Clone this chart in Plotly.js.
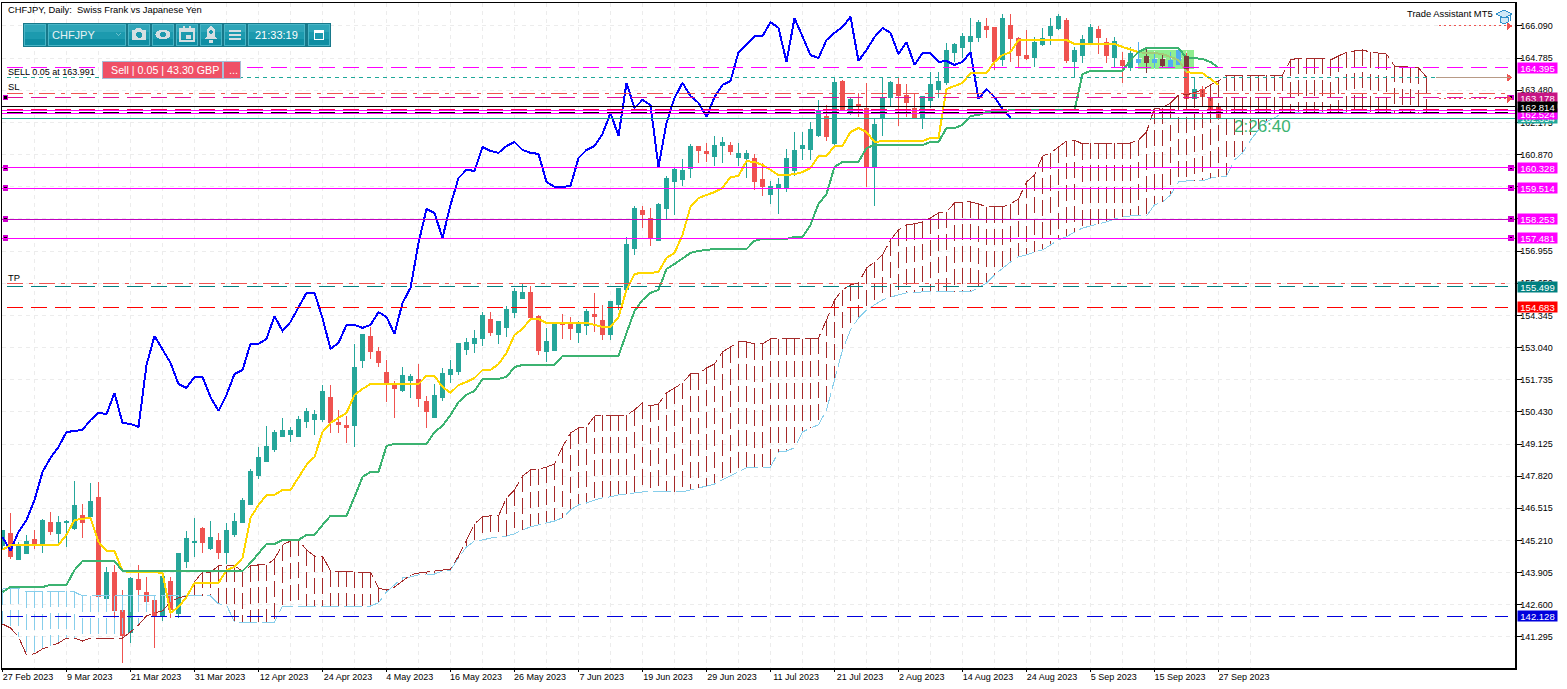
<!DOCTYPE html>
<html><head><meta charset="utf-8">
<script src="https://cdn.plot.ly/plotly-3.0.1.min.js"></script>
<style>html,body{margin:0;padding:0;background:#fff}#c{width:1567px;height:689px}
.scatterlayer path,.boxlayer path,.shapelayer path{shape-rendering:crispEdges}</style>
</head><body><div id="c"></div>
<script>
const open_=[144.99,145.48,144.42,144.70,145.23,144.99,145.96,145.48,145.92,145.68,146.21,146.17,146.94,142.84,143.93,142.35,141.46,143.61,143.08,142.76,142.11,143.53,142.23,144.34,145.11,145.68,144.87,145.19,144.74,145.44,145.96,146.69,147.83,148.40,148.92,149.41,149.53,149.45,150.02,150.14,150.14,151.03,149.98,149.86,149.86,152.50,153.47,152.86,152.01,151.48,151.28,151.72,151.76,150.87,150.22,151.03,151.93,152.05,152.98,153.19,153.39,154.16,153.59,153.84,154.48,155.05,155.26,154.28,152.86,152.94,154.00,153.96,153.67,153.92,154.40,154.12,153.55,154.77,155.38,157.08,158.62,158.26,157.37,158.70,159.76,159.88,160.29,161.18,160.98,160.81,161.26,161.22,160.77,160.73,160.73,159.88,159.27,159.52,159.52,160.21,161.10,161.06,161.63,162.40,161.34,163.82,162.56,162.92,162.76,160.37,162.32,163.17,163.70,163.25,162.76,162.36,163.05,163.50,163.78,165.03,165.20,165.48,165.64,166.05,166.01,164.71,166.09,165.60,164.91,164.83,165.32,165.72,165.97,166.33,164.63,164.91,165.44,165.93,165.44,164.83,164.67,164.39,164.59,164.87,164.59,164.75,164.39,164.51,164.87,163.13,163.53,163.13,162.80];
const high=[145.60,146.33,145.15,145.44,145.64,146.09,146.37,146.21,146.04,147.63,146.69,147.55,147.59,144.14,144.22,143.20,143.73,144.22,143.73,142.96,143.73,143.73,144.70,145.60,146.13,145.76,146.00,145.52,145.92,146.33,146.94,148.11,149.01,149.86,149.70,150.18,149.82,150.26,150.59,150.51,151.52,151.52,150.51,150.26,153.19,153.59,153.87,153.06,152.54,151.68,152.25,151.97,152.37,151.08,151.56,152.21,152.54,153.23,153.43,153.75,154.48,154.48,154.12,154.73,155.46,155.66,155.54,154.36,153.84,154.00,154.40,154.28,154.12,154.60,155.26,154.77,154.93,155.46,157.53,158.79,158.79,158.70,158.91,160.00,160.33,160.69,161.30,161.22,161.34,161.63,161.59,161.38,161.34,161.06,160.90,160.53,159.80,159.92,161.10,161.79,161.79,162.20,163.09,162.88,163.98,163.90,163.17,163.37,163.78,162.32,163.98,163.86,163.98,163.74,163.37,163.25,164.22,164.22,165.40,165.40,165.81,166.41,166.33,166.41,166.05,166.58,166.58,165.64,165.93,165.64,166.01,166.41,166.58,166.41,165.24,165.72,166.17,166.09,165.60,165.64,165.03,165.24,165.44,165.20,164.99,164.95,165.03,165.12,164.99,164.02,163.65,163.29,162.80];
const low=[144.83,144.46,144.42,144.70,144.87,144.70,145.44,145.11,144.95,145.64,145.31,146.17,142.92,142.84,142.07,140.24,141.05,142.72,142.39,140.85,141.95,142.07,142.07,144.10,144.54,144.70,144.83,144.46,144.26,145.35,145.92,146.65,147.71,148.40,148.80,149.41,149.21,149.41,149.78,149.49,150.02,149.57,149.57,149.17,149.01,152.21,152.58,152.25,150.83,150.18,151.24,150.99,150.63,149.78,150.18,150.87,151.60,151.93,152.74,152.82,153.11,153.51,153.19,153.47,154.24,155.01,154.16,152.74,152.45,152.94,153.39,153.35,153.23,153.55,153.67,153.35,153.35,154.57,155.38,156.80,157.89,157.16,157.37,158.26,158.42,159.60,159.92,160.53,160.57,160.41,160.53,160.86,160.41,159.92,159.43,159.19,158.87,158.46,159.35,160.00,160.65,160.65,161.59,161.42,161.22,162.68,162.48,162.40,159.56,158.79,161.63,162.80,162.03,162.40,162.36,161.91,162.76,163.17,163.70,164.63,164.79,164.79,165.44,165.60,164.30,164.47,164.63,164.43,164.71,164.43,165.28,165.32,165.93,164.59,164.02,164.59,165.32,164.95,164.59,164.39,163.78,164.26,164.51,164.18,164.39,164.39,164.39,164.51,163.09,163.13,163.21,162.48,162.28];
const close_=[145.60,144.54,144.99,145.15,145.03,146.04,145.56,145.92,146.00,146.61,145.96,146.81,142.92,143.93,142.35,141.34,143.65,143.24,142.72,142.11,143.73,142.39,144.70,145.31,145.15,145.11,145.35,144.74,145.60,146.00,146.85,148.03,148.56,149.01,149.61,149.66,149.66,150.10,150.43,150.34,151.24,149.98,149.90,149.78,152.25,153.55,152.90,152.42,151.56,151.36,151.89,151.85,150.99,150.43,151.08,151.97,152.13,153.19,153.23,153.39,154.36,153.67,154.08,154.60,155.30,155.26,154.24,152.94,153.27,153.96,153.96,153.80,153.96,154.52,154.28,153.55,154.89,155.42,157.24,158.70,158.42,157.49,158.83,159.92,160.25,160.21,161.18,161.02,160.90,161.22,161.38,160.98,160.90,160.90,159.76,159.56,159.56,159.64,160.73,161.02,161.22,161.87,162.60,161.59,163.78,162.68,163.09,162.88,160.33,162.11,163.13,163.78,163.25,162.97,162.36,163.21,163.70,163.82,165.08,165.32,165.68,165.68,166.25,165.93,164.63,166.41,165.60,164.91,164.79,165.44,165.60,166.05,166.46,164.67,165.08,165.56,166.01,165.64,164.91,165.48,164.47,164.99,164.71,164.59,164.71,164.47,164.67,165.08,163.13,163.53,163.21,162.72,162.32];
const chikou=[145.35,144.79,145.56,146.04,146.85,147.99,148.56,149.01,149.61,149.66,149.70,150.10,150.39,150.34,151.20,149.98,149.94,149.82,152.33,153.51,152.94,152.42,151.56,151.40,151.85,151.85,151.03,150.47,151.12,151.97,152.13,153.19,153.19,153.39,154.32,153.71,154.08,154.65,155.26,155.26,154.24,152.98,153.23,153.96,153.96,153.84,153.96,154.48,154.28,153.59,154.85,155.46,157.28,158.66,158.50,157.49,158.83,159.92,160.25,160.21,161.18,161.02,160.94,161.22,161.38,161.06,160.94,160.90,159.76,159.56,159.56,159.60,160.73,161.06,161.22,161.71,162.56,161.63,163.78,162.76,163.09,162.88,160.37,162.15,163.17,163.78,163.25,162.97,162.40,163.21,163.70,163.86,165.03,165.32,165.68,165.68,166.25,166.01,164.63,166.41,165.64,164.91,164.79,165.52,165.81,166.05,166.46,164.67,165.12,165.64,166.01,165.81,164.95,165.44,164.51,164.99,164.99,164.63,164.67,164.51,164.63,165.03,163.13,163.53,163.21,162.72,162.36];
const tenkan=[144.83,145.03,145.03,145.03,145.03,145.03,145.03,145.03,145.44,146.04,146.09,146.13,145.15,144.79,144.79,143.97,143.93,143.93,143.93,143.93,143.89,142.27,142.51,142.92,143.49,143.49,143.49,143.49,144.01,144.14,144.50,146.13,146.65,147.06,147.06,147.26,147.26,147.79,148.28,148.60,149.61,149.98,150.18,150.39,151.12,151.36,151.56,151.56,151.56,151.56,151.56,151.56,151.56,151.89,151.89,151.44,151.20,151.52,151.64,151.80,152.13,152.13,152.37,152.82,153.55,153.80,154.20,154.20,154.04,154.04,154.04,154.04,154.04,154.04,153.96,153.88,153.88,154.28,155.38,156.03,156.07,156.07,156.11,156.68,156.88,157.61,158.75,159.11,159.23,159.35,159.52,159.96,160.00,160.61,160.57,160.45,160.25,160.04,160.04,160.08,160.16,160.33,160.81,160.81,161.22,161.22,161.79,161.95,161.79,161.38,161.42,161.42,161.42,161.42,161.42,161.42,161.55,161.55,163.53,163.66,163.78,164.18,164.18,164.18,164.63,164.91,165.03,165.52,165.52,165.52,165.52,165.52,165.52,165.52,165.36,165.36,165.36,165.36,165.36,165.36,165.24,165.12,165.03,164.99,164.99,164.95,164.83,164.71,164.22,164.18,164.18,163.94,163.70];
const kijun=[143.12,143.32,143.32,143.32,143.32,143.32,143.41,143.41,143.41,144.01,144.38,144.38,144.38,144.38,144.38,143.97,143.97,143.97,143.97,143.97,143.97,143.97,143.97,143.97,143.97,143.97,143.97,143.97,143.97,143.97,143.97,144.30,144.70,145.07,145.07,145.23,145.23,145.23,145.44,145.44,145.84,146.21,146.21,146.21,146.98,147.79,147.99,147.99,149.05,149.13,149.13,149.13,149.13,149.13,149.61,149.86,150.30,150.83,151.12,151.28,151.77,151.77,151.77,151.85,152.25,152.33,152.33,152.33,152.33,152.33,152.70,152.70,152.70,152.70,152.70,152.70,152.70,152.70,153.63,154.52,154.97,155.26,155.38,156.23,156.43,156.64,156.88,156.96,157.00,157.04,157.04,157.04,157.04,157.04,157.37,157.45,157.45,157.45,157.45,157.53,157.53,158.02,158.87,159.27,160.37,160.57,160.57,160.57,161.14,161.26,161.26,161.26,161.26,161.26,161.26,161.26,161.38,161.38,161.95,161.95,162.07,162.44,162.48,162.60,162.60,162.60,162.68,162.68,162.68,162.68,162.68,162.68,162.68,162.68,162.68,164.14,164.27,164.27,164.27,164.27,164.27,164.71,165.03,165.20,165.20,165.20,165.20,165.20,164.79,164.79,164.75,164.63,164.39];
const senkouA=[141.82,141.66,141.30,140.57,140.61,140.81,140.93,141.05,141.25,141.25,141.13,141.25,141.25,141.25,141.25,141.25,141.50,141.78,142.15,142.27,142.35,142.72,142.88,142.96,143.53,143.93,143.93,144.18,144.18,144.18,143.97,144.18,144.22,144.22,144.46,145.03,145.19,145.23,144.83,144.58,144.58,143.97,143.97,143.97,143.93,143.93,143.93,143.28,143.20,143.32,143.57,143.81,143.89,143.93,143.97,144.01,144.05,144.58,145.23,145.88,146.17,146.21,146.21,146.94,147.26,147.83,148.07,148.11,148.19,148.32,149.01,149.57,149.78,149.82,150.26,150.30,150.30,150.30,150.30,150.51,150.79,150.67,150.75,151.20,151.40,151.60,151.97,151.97,152.21,152.37,152.86,153.06,153.27,153.27,153.19,153.19,153.39,153.39,153.39,153.39,153.39,153.39,153.43,154.16,154.97,155.38,155.58,155.66,156.27,156.51,156.80,157.41,157.81,158.02,158.06,158.14,158.30,158.50,158.54,158.91,158.95,158.95,158.87,158.75,158.75,158.75,158.87,159.07,159.76,160.04,160.81,160.94,161.18,161.42,161.46,161.30,161.34,161.34,161.34,161.34,161.34,161.34,161.46,161.79,162.76,162.76,162.97,163.29,163.29,163.41,163.50,163.70,163.86,164.10,164.10,164.10,164.10,164.10,164.10,164.10,164.10,164.71,164.79,164.79,164.79,164.79,164.71,164.87,165.03,165.08,165.12,165.03,164.99,164.95,164.47,164.43,164.43,164.39,164.02];
const senkouB=[143.24,143.28,143.28,143.12,143.12,143.12,143.16,143.16,143.16,143.12,142.96,142.96,142.96,142.96,142.96,142.96,142.96,142.96,142.96,142.96,142.96,142.96,142.96,142.96,142.96,142.96,142.96,142.64,142.59,141.90,141.90,141.90,141.90,141.90,141.90,142.55,142.55,142.55,142.55,142.55,142.55,142.55,142.55,142.55,142.55,142.55,142.55,142.68,143.12,143.41,143.69,143.73,143.81,143.85,143.85,143.97,144.01,144.50,144.95,145.19,145.23,145.31,145.35,145.39,145.48,145.64,145.76,145.84,145.92,146.00,146.13,146.45,146.65,146.73,146.85,146.94,146.98,147.06,147.10,147.14,147.18,147.18,147.18,147.18,147.18,147.18,147.26,147.34,147.42,147.50,147.67,147.83,147.99,148.16,148.19,148.19,148.19,148.80,148.84,148.97,149.61,149.78,149.90,150.51,151.72,152.94,153.75,154.24,154.57,154.77,154.97,155.09,155.17,155.26,155.26,155.30,155.30,155.30,155.30,155.30,155.30,155.30,155.46,155.66,155.99,156.27,156.51,156.72,156.80,156.92,157.00,157.20,157.41,157.53,157.73,157.89,157.97,158.06,158.14,158.26,158.34,158.38,158.38,158.38,158.83,158.95,159.23,159.76,159.80,159.80,159.80,159.92,159.96,160.00,160.65,160.94,161.46,161.87,162.20,162.36,162.56,162.56,162.56,162.56,162.56,162.56,162.56,162.56,162.56,162.56,162.56,162.56,162.56,162.56,162.56,162.56,162.56,162.56,162.56];
const yTicks=[166.09,164.785,163.48,162.175,160.87,159.565,158.26,156.955,155.65,154.345,153.04,151.735,150.43,149.125,147.82,146.515,145.21,143.905,142.6,141.295];
const dateLabels=["27 Feb 2023","9 Mar 2023","21 Mar 2023","31 Mar 2023","12 Apr 2023","24 Apr 2023","4 May 2023","16 May 2023","26 May 2023","7 Jun 2023","19 Jun 2023","29 Jun 2023","11 Jul 2023","21 Jul 2023","2 Aug 2023","14 Aug 2023","24 Aug 2023","5 Sep 2023","15 Sep 2023","27 Sep 2023"];
const levelValues=[164.395,163.991,163.34,163.178,162.814,162.70,162.68,162.55,162.524,162.34,160.328,159.514,158.253,157.481,155.65,155.499,154.683,142.128];
const levelColors=["#ff00ff","#20a89a","#ef5350","#e0109a","#000000","#ff0055","#ff00ff","#000000","#ff00ff","#20a89a","#ff00ff","#ff00ff","#c000c0","#ff00ff","#ef5350","#008080","#ff0000","#0000dd"];
const levelDash=["16px,8px","4px,4px","16px,6px,4px,6px","16px,8px","solid","16px,8px","solid","16px,8px","solid","solid","solid","solid","solid","solid","16px,6px,4px,6px","16px,8px","16px,8px","16px,8px"];
const levelWidth=[1,1,1,1,1,2,1,2,1,1,1,1,1,1,1,1,1,1];
const boxTexts=["164.395","162.354","162.524","163.178","162.814","160.328","159.514","158.253","157.481","155.499","154.683","142.128"];
const boxValues=[164.395,162.34,162.524,163.178,162.814,160.328,159.514,158.253,157.481,155.499,154.683,142.128];
const boxColors=["#ff00ff","#20a89a","#ff00ff","#c71585","#000000","#ff00ff","#ff00ff","#ff00ff","#ff00ff","#008080","#ff0000","#0000dd"];
const anchorLevels=[163.178,160.328,159.514,158.253,157.481];
const arrowLevels=[166.09,163.991,163.13];

const FONT="Liberation Sans";
const W=1513,H=665,ML=2,MT=3;
const X=p=>(p-ML)/W, Y=p=>1-(p-MT)/H;
const idx=open_.map((_,i)=>i);
const xOf=a=>a.map((_,i)=>i);
const tickIdx=dateLabels.map((_,i)=>i*8);
const labelPos=dateLabels.map((s,i)=>tickIdx[i]+s.length*4.65/2/8);
const inRect=i=>i>=142&&i<=147;

// hatching of the cloud
function hatch(sel){const xs=[],ys=[];senkouA.forEach((a,i)=>{const b=senkouB[i];if(sel(a,b,i)){xs.push(i,i,null);ys.push(Math.max(a,b),Math.min(a,b),null);}});return{xs,ys};}
const hBrown=hatch((a,b)=>a>b), hSky=hatch((a,b)=>a<=b);

const traces=[
 {type:'scatter',mode:'lines',x:hSky.xs,y:hSky.ys,line:{color:'#87ceeb',width:1,dash:'16px,6px'},hoverinfo:'skip'},
 {type:'scatter',mode:'lines',x:hBrown.xs,y:hBrown.ys,line:{color:'#a52a2a',width:1,dash:'16px,6px'},hoverinfo:'skip'},
 {type:'scatter',mode:'lines',x:xOf(senkouB),y:senkouB,line:{color:'#87ceeb',width:1,dash:'18px,5px'},hoverinfo:'skip'},
 {type:'scatter',mode:'lines',x:xOf(senkouA),y:senkouA,line:{color:'#a52a2a',width:1,dash:'18px,5px'},hoverinfo:'skip'},
 {type:'candlestick',x:idx.filter(i=>!inRect(i)),open:open_.filter((_,i)=>!inRect(i)),high:high.filter((_,i)=>!inRect(i)),low:low.filter((_,i)=>!inRect(i)),close:close_.filter((_,i)=>!inRect(i)),
  increasing:{line:{color:'#26a69a',width:1},fillcolor:'#26a69a'},decreasing:{line:{color:'#ef5350',width:1},fillcolor:'#ef5350'},whiskerwidth:0,hoverinfo:'skip'},
 {type:'candlestick',x:idx.filter(inRect),open:open_.filter((_,i)=>inRect(i)),high:high.filter((_,i)=>inRect(i)),low:low.filter((_,i)=>inRect(i)),close:close_.filter((_,i)=>inRect(i)),
  increasing:{line:{color:'#52aef0',width:1},fillcolor:'#52aef0'},decreasing:{line:{color:'#7b3b3b',width:1},fillcolor:'#7b3b3b'},whiskerwidth:0,hoverinfo:'skip'},
 {type:'scatter',mode:'lines',x:xOf(chikou),y:chikou,line:{color:'#0000ff',width:2},hoverinfo:'skip'},
 {type:'scatter',mode:'lines',x:xOf(tenkan),y:tenkan,line:{color:'#ffd700',width:2},hoverinfo:'skip'},
 {type:'scatter',mode:'lines',x:xOf(tenkan),y:tenkan.map((v,i)=>(i>=142&&i<=148)?v:null),line:{color:'#a4cc78',width:2},hoverinfo:'skip'},
 {type:'scatter',mode:'lines',x:xOf(kijun),y:kijun,line:{color:'#3cb371',width:2},hoverinfo:'skip'},
 {type:'scatter',mode:'markers',x:anchorLevels.flatMap(()=>[0.35,188.55]),y:anchorLevels.flatMap(v=>[v,v]),marker:{symbol:'square',size:4,color:'#000',line:{color:'#d000d0',width:1.5}},cliponaxis:false,hoverinfo:'skip'},
 {type:'scatter',mode:'markers',x:arrowLevels.map(()=>188.3),y:arrowLevels,marker:{symbol:'triangle-right',size:7,color:'#ef5350'},hoverinfo:'skip'},
 {type:'scatter',mode:'none',x:[0],y:[150],xaxis:'x2',hoverinfo:'skip'}
];

// horizontal levels
const shapes=[];
shapes.push({type:'rect',layer:'below',xref:'x',yref:'y',x0:141.9,x1:148.9,y0:164.345,y1:165.115,fillcolor:'#90ee90',line:{width:0}});
shapes.push({type:'rect',layer:'above',xref:'x',yref:'y',x0:147.65,x1:148.35,y0:164.345,y1:164.87,fillcolor:'#7b3b3b',line:{width:0}});
levelValues.forEach((v,i)=>{
 const dashed=levelDash[i]!=='solid';
 shapes.push({type:'line',xref:'paper',yref:'y',x0:X(dashed?7:2),x1:X(dashed?1508:1515),y0:v,y1:v,line:{color:levelColors[i],width:levelWidth[i],dash:levelDash[i]}});
});
shapes.push({type:'line',xref:'paper',yref:'y',x0:X(1439),x1:X(1510),y0:166.09,y1:166.09,line:{color:'#ef5350',width:1,dash:'2px,3px'}});
shapes.push({type:'line',xref:'paper',yref:'y',x0:X(1436),x1:X(1510),y0:163.991,y1:163.991,line:{color:'#b89a86',width:1}});
shapes.push({type:'line',xref:'paper',yref:'y',x0:X(1439),x1:X(1510),y0:163.13,y1:163.13,line:{color:'#ef5350',width:1,dash:'2px,3px'}});

// pixel-placed widgets
const rectP=(x0,y0,x1,y1,fill,line)=>({type:'rect',xref:'paper',yref:'paper',x0:X(x0),x1:X(x1),y0:Y(y0),y1:Y(y1),fillcolor:fill,line:line||{width:0}});
const pathP=(pts,fill,stroke,w)=>({type:'path',xref:'paper',yref:'paper',path:'M'+pts.map(p=>X(p[0])+' '+Y(p[1])).join('L')+(fill?'Z':''),fillcolor:fill||'rgba(0,0,0,0)',line:{color:stroke||'rgba(0,0,0,0)',width:w||0}});
const circP=(cx,cy,rx,ry,fill,stroke,w)=>({type:'circle',xref:'paper',yref:'paper',x0:X(cx-rx),x1:X(cx+rx),y0:Y(cy-ry),y1:Y(cy+ry),fillcolor:fill,line:{color:stroke||'rgba(0,0,0,0)',width:w||0}});
shapes.push(rectP(23,23,331,47,'#17788a'));
[[24,46],[48,126],[128,150],[152,174],[176,198],[200,222],[224,246],[248,305],[308,330]].forEach(c=>{
 shapes.push(rectP(c[0],24,c[1],46,'#49b5c6'));
 shapes.push(rectP(c[0]+1,25,c[1]-1,32,'#2ea5b8'));
 shapes.push(rectP(c[0]+1,32,c[1]-1,39,'#1c9aae'));
 shapes.push(rectP(c[0]+1,39,c[1]-1,45,'#0f8ea3'));
});
const IC='#d5dfe2';
shapes.push(pathP([[116,33],[118.5,35.5],[121,33]],null,'#6cc0cc',1));
// camera
shapes.push(pathP([[132,30],[135,30],[136.5,28],[141,28],[142.5,30],[146,30],[146,40],[132,40]],IC));
shapes.push(circP(139,35,3.4,3.4,'#1c9aae',IC,1));
// eye
shapes.push(circP(163,34.5,7.5,4.7,IC));
shapes.push(circP(163,34.5,3,3,'#1c9aae'));
// calendar
shapes.push(rectP(180,28.5,194,41,'rgba(0,0,0,0)',{color:IC,width:2}));
shapes.push(rectP(180,28,194,31.5,IC));
shapes.push(rectP(186,35,191,39,IC));
shapes.push(rectP(183,26,185,29,IC));shapes.push(rectP(189,26,191,29,IC));
// bell
shapes.push(pathP([[211,26],[214.5,29],[215,36],[217.5,39],[204.5,39],[207,36],[207.5,29]],IC));
shapes.push(rectP(209,40,213,42.5,IC));
shapes.push(rectP(209,31,213,33,'#1c9aae'));shapes.push(rectP(210,30,212,34,'#1c9aae'));
// menu
[30,34,38].forEach(y=>shapes.push(rectP(229,y,241,y+2,IC)));
// window
shapes.push(rectP(314.5,30.5,323.5,39.5,'rgba(0,0,0,0)',{color:'#ffffff',width:1.5}));
shapes.push(rectP(314,30,324,32.5,'#ffffff'));
// sell buttons
shapes.push(rectP(102.5,61.5,222.5,78.5,'#ef5066',{color:'#a9bdd6',width:1}));
shapes.push(rectP(223.5,61.5,240.5,78.5,'#ef5066',{color:'#a9bdd6',width:1}));
// graduation cap
shapes.push(pathP([[1500,17],[1500,22],[1504,24],[1508,22],[1508,17]],'#cfe8f6','#2f8fc9',1));
shapes.push(pathP([[1496,14],[1504,10],[1512,14],[1504,18]],'#cfe8f6','#2f8fc9',1));
shapes.push(pathP([[1510,15],[1510,21]],null,'#2f8fc9',1));

const ann=[];
const note=(t,x,y,o)=>ann.push(Object.assign({text:t,xref:'paper',yref:'paper',x:X(x),y:Y(y),xanchor:'left',yanchor:'middle',showarrow:false,font:{family:FONT,size:9.4,color:'#000'}},o||{}));
note('CHFJPY, Daily:  Swiss Frank vs Japanese Yen',6,9.5);
note('SELL 0.05 at 163.991',6,72.5,{font:{family:FONT,size:9,color:'#000'}});
note('SL',6,87);
note('TP',6,278);
note('Trade Assistant MT5',1405,14);
note('CHFJPY',50,34.5,{font:{family:FONT,size:11,color:'#e8f2f4'}});
note('21:33:19',253,34.5,{font:{family:FONT,size:11,color:'#ffffff'}});
note('Sell | 0.05 | 43.30 GBP',109,70,{font:{family:FONT,size:10.7,color:'#ffffff'}});
note('...',227,70,{font:{family:FONT,size:11,color:'#ffffff'}});
note('2:26:40',1232,127,{font:{family:FONT,size:17,color:'#3cb371'}});
boxTexts.forEach((t,i)=>ann.push({text:t,xref:'paper',yref:'y',x:X(1517),y:boxValues[i],xanchor:'left',yanchor:'middle',showarrow:false,width:39,height:10,borderpad:0,bgcolor:boxColors[i],align:'center',font:{family:FONT,size:9.5,color:'#fff'}}));

const layout={
 width:1567,height:689,margin:{l:ML,r:52,t:MT,b:21,pad:0},paper_bgcolor:'#fff',plot_bgcolor:'#fff',showlegend:false,hovermode:false,boxgap:0.34,
 font:{family:FONT,size:9,color:'#000'},
 xaxis:{range:[-0.0625,189.0625],type:'linear',tickmode:'array',tickvals:labelPos,ticktext:dateLabels,ticks:'',showgrid:false,zeroline:false,showline:true,linecolor:'#000',linewidth:1.5,mirror:true,rangeslider:{visible:false},tickfont:{family:FONT,size:9,color:'#000'}},
 xaxis2:{range:[-0.0625,189.0625],type:'linear',overlaying:'x',anchor:'y',side:'bottom',tickmode:'array',tickvals:tickIdx,ticktext:dateLabels.map(()=>''),showticklabels:false,ticks:'outside',ticklen:3,tickcolor:'#000',showgrid:true,gridcolor:'#ececec',griddash:'4px,4px',gridwidth:1,zeroline:false,showline:false,
  minor:{tickvals:tickIdx.map(v=>v+4),showgrid:true,gridcolor:'#ececec',griddash:'4px,4px',gridwidth:1,ticks:''}},
 yaxis:{range:[140.035,167.023],side:'right',tickmode:'array',tickvals:yTicks,ticktext:yTicks.map(v=>v.toFixed(3)),ticks:'outside',ticklen:5,ticklabelstandoff:-3,tickcolor:'#000',showgrid:true,gridcolor:'#ececec',griddash:'4px,4px',gridwidth:1,zeroline:false,showline:true,linecolor:'#000',linewidth:1.5,mirror:true,tickfont:{family:FONT,size:9,color:'#000'}},
 shapes:shapes,annotations:ann
};
Plotly.newPlot('c',traces,layout,{displayModeBar:false,staticPlot:true});
</script></body></html>
